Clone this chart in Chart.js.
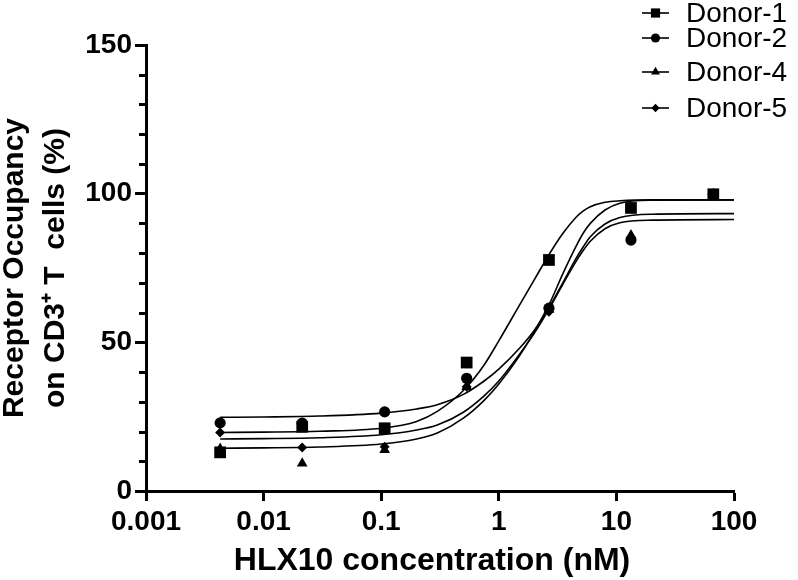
<!DOCTYPE html>
<html>
<head>
<meta charset="utf-8">
<script src="https://cdn.jsdelivr.net/npm/chart.js@4.4.1/dist/chart.umd.min.js"></script>
<style>
  html, body { margin: 0; padding: 0; background: #fff; }
</style>
</head>
<body>
<canvas id="roChart" width="798" height="580"></canvas>
<script>
// HLX10 doses (nM), 5-fold dilution series
const doses = [0.00427, 0.0213, 0.107, 0.533, 2.67, 13.3, 66.7];
const donorNames = ['Donor-1', 'Donor-2', 'Donor-4', 'Donor-5'];
const donor1 = [13.0, 21.6, 21.1, 43.2, 77.7, 95.2, 99.8];
const donor2 = [22.9, 22.8, 26.6, 37.9, 61.5, 84.4, 99.8];
const donor4 = [14.2, 9.3, 13.8, 35.0, 61.0, 86.0, 99.8];
const donor5 = [19.7, 14.6, 14.9, 35.1, 60.3, 85.0, 99.8];

// fitted dose-response curves
const fitX = [0.00427, 0.01, 0.03, 0.1, 0.2, 0.3, 0.5, 0.75, 1, 1.5, 2, 2.7, 3.5, 4.5, 5.2, 6, 8, 10.7, 20, 100];
const fit1 = [19.7, 19.8, 20.1, 21.1, 23.4, 26.8, 33.8, 42.4, 50.5, 62.5, 71, 79.8, 86.6, 91.9, 94.1, 95.6, 97.1, 97.6, 97.9, 97.9];
const fit2 = [24.8, 24.9, 25.2, 26.2, 27.6, 29, 32.5, 37, 41, 48, 54, 62, 70, 78, 82, 85.5, 89.8, 92, 93.1, 93.3];
const fit4 = [14.4, 14.5, 14.8, 15.8, 17.5, 19.5, 24.5, 30.5, 36, 45.5, 53.5, 63, 73, 82, 86.6, 90, 94.5, 96.8, 97.8, 97.9];
const fit5 = [17.5, 17.6, 17.9, 18.9, 20.5, 22.2, 26.5, 32, 37, 46, 53, 61.5, 69.5, 77, 80.8, 84, 88.2, 90.2, 91.1, 91.3];

const xTicks = [0.001, 0.01, 0.1, 1, 10, 100];
const yTicks = [0, 50, 100, 150];
const yMinor = [10, 20, 30, 40, 60, 70, 80, 90, 110, 120, 130, 140];

const FONT = "'Liberation Sans', Arial, Helvetica, sans-serif";
const markers = [
  { pointStyle: 'rect', radius: 8.3 },
  { pointStyle: 'circle', radius: 5.6 },
  { pointStyle: 'triangle', radius: 6.2 },
  { pointStyle: 'rectRot', radius: 5 }
];

const toPts = (xs, ys) => xs.map((x, i) => ({ x: x, y: ys[i] }));

const pointSets = [donor1, donor2, donor4, donor5].map((vals, i) => ({
  label: donorNames[i],
  data: toPts(doses, vals),
  showLine: false,
  pointStyle: markers[i].pointStyle,
  pointRadius: markers[i].radius,
  backgroundColor: '#000',
  borderColor: '#000',
  borderWidth: 0
}));

const curveSets = [fit1, fit2, fit4, fit5].map((vals, i) => ({
  label: donorNames[i] + ' fit',
  data: toPts(fitX, vals),
  showLine: true,
  pointRadius: 0,
  borderColor: '#000',
  borderWidth: 1.6,
  cubicInterpolationMode: 'monotone',
  fill: false
}));

// y minor ticks + custom legend (line with marker, uneven rows like the original)
const extrasPlugin = {
  id: 'extras',
  afterDraw(chart) {
    const ctx = chart.ctx;
    const y = chart.scales.y;
    const left = chart.chartArea.left;
    ctx.save();
    ctx.strokeStyle = '#000';
    ctx.lineWidth = 3;
    yMinor.forEach(v => {
      const py = Math.round(y.getPixelForValue(v)) + 0.5;
      ctx.beginPath();
      ctx.moveTo(left - 7, py);
      ctx.lineTo(left, py);
      ctx.stroke();
    });

    const rows = [13, 38, 72, 108];
    const legSize = [6.5, 4.6, 5.2, 4.2];
    ctx.fillStyle = '#000';
    ctx.lineWidth = 1.6;
    ctx.font = '28px ' + FONT;
    ctx.textBaseline = 'middle';
    ctx.textAlign = 'left';
    rows.forEach((ry, i) => {
      ctx.beginPath();
      ctx.moveTo(642, ry);
      ctx.lineTo(669, ry);
      ctx.stroke();
      Chart.helpers.drawPoint(ctx, {
        pointStyle: markers[i].pointStyle,
        radius: legSize[i],
        rotation: 0,
        borderWidth: 0
      }, 655.5, ry);
      ctx.fillText(donorNames[i], 686, ry + 1);
    });
    ctx.restore();
  }
};

new Chart(document.getElementById('roChart'), {
  type: 'scatter',
  data: { datasets: pointSets.concat(curveSets) },
  plugins: [extrasPlugin],
  options: {
    responsive: false,
    animation: false,
    devicePixelRatio: 1,
    layout: { padding: { top: 45, right: 64, left: 0, bottom: 0 } },
    plugins: {
      legend: { display: false },
      tooltip: { enabled: false }
    },
    scales: {
      x: {
        type: 'logarithmic',
        min: 0.001,
        max: 100,
        afterBuildTicks: s => { s.ticks = xTicks.map(v => ({ value: v })); },
        afterFit: s => { s.height = 89; },
        ticks: {
          autoSkip: false,
          maxRotation: 0,
          color: '#000',
          padding: 4,
          font: { family: FONT, size: 28, weight: 'bold' },
          callback: v => String(v)
        },
        grid: { drawOnChartArea: false, tickLength: 10, tickWidth: 3, tickColor: '#000' },
        border: { color: '#000', width: 3 },
        title: {
          display: true,
          text: 'HLX10 concentration (nM)\u2002',
          color: '#000',
          padding: { top: 0, bottom: 0 },
          font: { family: FONT, size: 32, weight: 'bold', lineHeight: 1.2 }
        }
      },
      y: {
        min: 0,
        max: 150,
        afterBuildTicks: s => { s.ticks = yTicks.map(v => ({ value: v })); },
        afterFit: s => { s.width = 146; },
        ticks: {
          color: '#000',
          padding: 3,
          font: { family: FONT, size: 28, weight: 'bold' }
        },
        grid: { drawOnChartArea: false, tickLength: 11, tickWidth: 3, tickColor: '#000' },
        border: { color: '#000', width: 3 },
        title: {
          display: true,
          text: ['Receptor Occupancy', 'on CD3\u207A T  cells (%)'],
          color: '#000',
          padding: { top: -6, bottom: 0 },
          font: { family: FONT, size: 30, weight: 'bold', lineHeight: 1.37 }
        }
      }
    }
  }
});
</script>
</body>
</html>
